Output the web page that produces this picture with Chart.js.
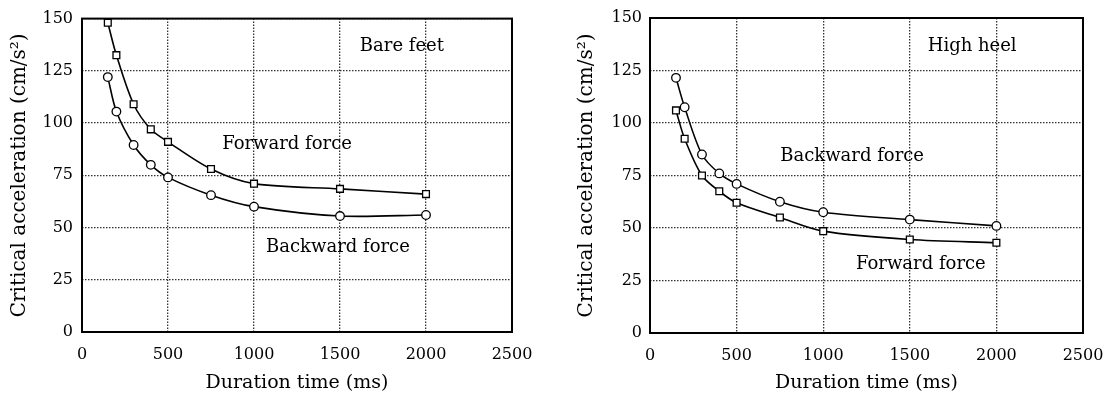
<!DOCTYPE html>
<html>
<head>
<meta charset="utf-8">
<script src="https://cdn.jsdelivr.net/npm/chart.js@4"></script>
<style>
  body { margin: 0; background: #fff; }
  .panel { position: absolute; top: 0; height: 407px; }
</style>
</head>
<body>
<div class="panel" style="left:0;width:553px"><canvas id="bareChart"></canvas></div>
<div class="panel" style="left:560px;width:546px"><canvas id="heelChart"></canvas></div>
<script>
// durations (ms) shared by all series
const durations = [150, 200, 300, 400, 500, 750, 1000, 1500, 2000];
// critical acceleration (cm/s²)
const bareForward = [148, 132.5, 109, 97, 91, 78, 71, 68.5, 66];
const bareBackward = [122, 105.5, 89.5, 80, 74, 65.5, 60, 55.5, 56];
const heelBackward = [121.5, 107.5, 85, 76, 71, 62.5, 57.5, 54, 51];
const heelForward = [106, 92.5, 75, 67.5, 62, 55, 48.5, 44.5, 43];
const xTicks = [0, 500, 1000, 1500, 2000, 2500];
const yTicks = [0, 25, 50, 75, 100, 125, 150];

const serif = '"DejaVu Serif", "Liberation Serif", serif';

function toPoints(values) {
    return durations.map((d, i) => ({ x: d, y: values[i] }));
}

function series(values, shape) {
    return {
        data: toPoints(values),
        borderColor: '#000',
        borderWidth: 1.6,
        backgroundColor: '#fff',
        pointBackgroundColor: '#fff',
        pointBorderColor: '#000',
        pointBorderWidth: 1.3,
        pointStyle: shape,
        pointRadius: shape === 'rect' ? 4.8 : 4.3,
        tension: 0.3,
        clip: false
    };
}

// labels inside the plot + heavy frame round the plot area
const plotText = {
    id: 'plotText',
    afterDatasetsDraw(chart, args, opts) {
        const { ctx, chartArea, scales: { x, y } } = chart;
        ctx.save();
        ctx.font = '18px ' + serif;
        ctx.fillStyle = '#000';
        ctx.textAlign = 'center';
        ctx.textBaseline = 'middle';
        opts.items.forEach(it => {
            ctx.fillText(it.text, x.getPixelForValue(it.x), y.getPixelForValue(it.y));
        });
        ctx.lineWidth = 2;
        ctx.strokeStyle = '#000';
        ctx.strokeRect(chartArea.left, chartArea.top, chartArea.right - chartArea.left, chartArea.bottom - chartArea.top);
        ctx.restore();
    }
};

function makeChart(id, datasets, items, box) {
    const grid = {
        color: '#333',
        lineWidth: 1.3,
        drawTicks: false
    };
    const border = { display: false, dash: [1.5, 1.5] };
    return new Chart(document.getElementById(id), {
        type: 'line',
        data: { datasets: datasets },
        options: {
            responsive: true,
            maintainAspectRatio: false,
            animation: false,
            layout: { padding: { left: 0, right: box.right, top: box.top, bottom: 0 } },
            plugins: {
                legend: { display: false },
                tooltip: { enabled: false },
                plotText: { items: items }
            },
            scales: {
                x: {
                    type: 'linear',
                    min: 0,
                    max: 2500,
                    afterBuildTicks: s => { s.ticks = xTicks.map(v => ({ value: v })); },
                    afterFit: s => {
                        s.height = box.xHeight;
                        // let the end labels hang over the padding
                        s.paddingLeft = 0;
                        s.paddingRight = 0;
                    },
                    grid: grid,
                    border: border,
                    ticks: {
                        color: '#000',
                        padding: 13,
                        font: { family: serif, size: 16 },
                        callback: v => String(v)
                    },
                    title: {
                        display: true,
                        text: 'Duration time (ms)',
                        color: '#000',
                        padding: { top: 0, bottom: 13 },
                        font: { family: serif, size: 19 }
                    }
                },
                y: {
                    min: 0,
                    max: 150,
                    afterBuildTicks: s => { s.ticks = yTicks.map(v => ({ value: v })); },
                    afterFit: s => { s.width = box.yWidth; },
                    grid: grid,
                    border: border,
                    ticks: {
                        color: '#000',
                        padding: box.tickPad,
                        font: { family: serif, size: 16 },
                        callback: v => String(v)
                    },
                    title: {
                        display: true,
                        text: 'Critical acceleration (cm/s²)',
                        color: '#000',
                        padding: { top: box.titlePad, bottom: 0 },
                        font: { family: serif, size: 20 }
                    }
                }
            }
        },
        plugins: [plotText]
    });
}

makeChart('bareChart',
    [series(bareForward, 'rect'), series(bareBackward, 'circle')],
    [
        { text: 'Bare feet', x: 1860, y: 136.5 },
        { text: 'Forward force', x: 1192, y: 90 },
        { text: 'Backward force', x: 1488, y: 40.5 }
    ],
    { right: 41, top: 16, xHeight: 75, yWidth: 82, tickPad: 9, titlePad: 8 }
);

makeChart('heelChart',
    [series(heelBackward, 'circle'), series(heelForward, 'rect')],
    [
        { text: 'High heel', x: 1860, y: 136.5 },
        { text: 'Backward force', x: 1167, y: 84 },
        { text: 'Forward force', x: 1564, y: 32.5 }
    ],
    { right: 23, top: 18, xHeight: 74, yWidth: 90, tickPad: 8, titlePad: 15 }
);
</script>
</body>
</html>
